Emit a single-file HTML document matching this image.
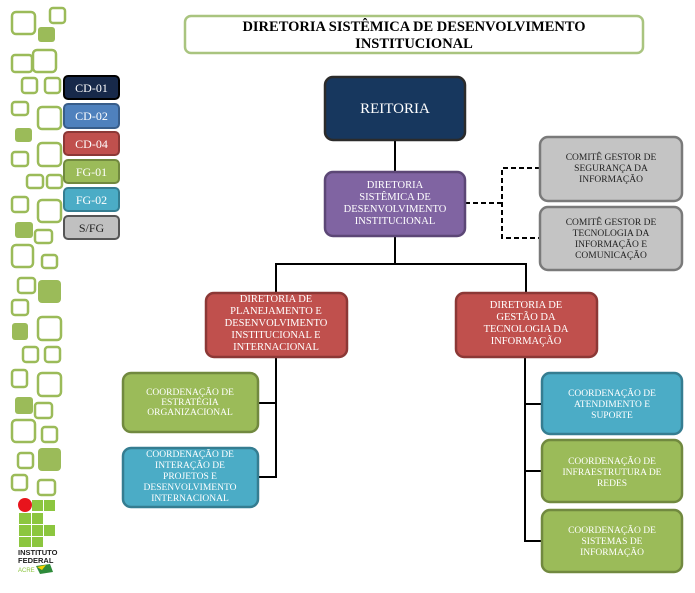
<!DOCTYPE html>
<html><head><meta charset="utf-8"><style>
html,body{margin:0;padding:0;background:#fff;width:695px;height:593px;overflow:hidden}
svg{display:block}
text{font-family:"Liberation Serif",serif}
</style></head><body>
<svg width="695" height="593" viewBox="0 0 695 593" xmlns="http://www.w3.org/2000/svg">
<g fill="none" stroke="#9bbb59" stroke-width="2.5">
<rect x="12" y="12" width="23" height="22" rx="4"/>
<rect x="50" y="8" width="15" height="15" rx="3"/>
<rect x="12" y="55" width="20" height="17" rx="3"/>
<rect x="33" y="50" width="23" height="22" rx="4"/>
<rect x="22" y="78" width="15" height="15" rx="3"/>
<rect x="45" y="78" width="15" height="15" rx="3"/>
<rect x="12" y="102" width="16" height="13" rx="3"/>
<rect x="38" y="107" width="23" height="22" rx="4"/>
<rect x="12" y="152" width="16" height="14" rx="3"/>
<rect x="38" y="143" width="23" height="23" rx="4"/>
<rect x="27" y="175" width="16" height="13" rx="3"/>
<rect x="47" y="175" width="15" height="13" rx="3"/>
<rect x="12" y="197" width="16" height="15" rx="3"/>
<rect x="38" y="200" width="23" height="22" rx="4"/>
<rect x="35" y="230" width="17" height="13" rx="3"/>
<rect x="12" y="245" width="21" height="22" rx="4"/>
<rect x="42" y="255" width="15" height="13" rx="3"/>
<rect x="18" y="278" width="17" height="15" rx="3"/>
<rect x="12" y="300" width="16" height="15" rx="3"/>
<rect x="38" y="317" width="23" height="23" rx="4"/>
<rect x="23" y="347" width="15" height="15" rx="3"/>
<rect x="45" y="347" width="15" height="15" rx="3"/>
<rect x="12" y="370" width="15" height="17" rx="3"/>
<rect x="38" y="373" width="23" height="23" rx="4"/>
<rect x="35" y="403" width="17" height="15" rx="3"/>
<rect x="12" y="420" width="23" height="22" rx="4"/>
<rect x="42" y="427" width="15" height="15" rx="3"/>
<rect x="18" y="453" width="15" height="15" rx="3"/>
<rect x="12" y="475" width="15" height="15" rx="3"/>
<rect x="38" y="480" width="17" height="15" rx="3"/>
</g>
<g fill="#9bbb59">
<rect x="38" y="27" width="17" height="15" rx="3"/>
<rect x="15" y="128" width="17" height="14" rx="3"/>
<rect x="15" y="222" width="18" height="16" rx="3"/>
<rect x="38" y="280" width="23" height="23" rx="4"/>
<rect x="12" y="323" width="16" height="17" rx="3"/>
<rect x="15" y="397" width="18" height="17" rx="3"/>
<rect x="38" y="448" width="23" height="23" rx="4"/>
</g>
<!-- logo -->
<g fill="#8cc63f">
<rect x="32" y="500" width="11" height="11"/><rect x="44" y="500" width="11" height="11"/>
<rect x="19" y="513" width="12" height="11"/><rect x="32" y="513" width="11" height="11"/>
<rect x="19" y="525" width="12" height="11"/><rect x="32" y="525" width="11" height="11"/><rect x="44" y="525" width="11" height="11"/>
<rect x="19" y="537" width="12" height="10"/><rect x="32" y="537" width="11" height="10"/>
</g>
<circle cx="25" cy="505" r="7" fill="#e8141c"/>
<text x="18" y="555" font-family="Liberation Sans,sans-serif" font-size="7.5" font-weight="bold" fill="#222" style="font-family:'Liberation Sans',sans-serif">INSTITUTO</text>
<text x="18" y="563" font-size="7.5" font-weight="bold" fill="#222" style="font-family:'Liberation Sans',sans-serif">FEDERAL</text>
<text x="18" y="572" font-size="6" fill="#8cc63f" style="font-family:'Liberation Sans',sans-serif">ACRE</text>
<polygon points="36,566 50,564 53,572 40,574" fill="#2e8b3a"/><polygon points="37,567 46,565 42,570" fill="#f5d000"/>
<!-- legend -->
<g stroke-width="2" font-size="12" text-anchor="middle">
<rect x="64" y="76" width="55" height="23" rx="4" fill="#17294a" stroke="#000"/><text x="91.5" y="92" fill="#fff">CD-01</text>
<rect x="64" y="104" width="55" height="24" rx="4" fill="#4f81bd" stroke="#385d8a"/><text x="91.5" y="120" fill="#fff">CD-02</text>
<rect x="64" y="132" width="55" height="23" rx="4" fill="#c0504d" stroke="#8c3836"/><text x="91.5" y="148" fill="#fff">CD-04</text>
<rect x="64" y="160" width="55" height="23" rx="4" fill="#9bbb59" stroke="#71893f"/><text x="91.5" y="176" fill="#fff">FG-01</text>
<rect x="64" y="188" width="55" height="23" rx="4" fill="#4bacc6" stroke="#357d91"/><text x="91.5" y="204" fill="#fff">FG-02</text>
<rect x="64" y="216" width="55" height="23" rx="4" fill="#c0c0c0" stroke="#555"/><text x="91.5" y="232" fill="#222">S/FG</text>
</g>
<!-- title -->
<rect x="185" y="16" width="458" height="37" rx="6" fill="#fff" stroke="#a9c47f" stroke-width="2.5"/>
<g font-size="14.5" font-weight="bold" text-anchor="middle" fill="#000">
<text x="414" y="31">DIRETORIA SISTÊMICA DE DESENVOLVIMENTO</text>
<text x="414" y="48">INSTITUCIONAL</text>
</g>
<!-- connectors -->
<g stroke="#000" stroke-width="2" fill="none">
<line x1="395" y1="140" x2="395" y2="172"/>
<line x1="395" y1="236" x2="395" y2="264"/>
<polyline points="276,293 276,264 526,264 526,293"/>
<polyline points="276,357 276,477 258,477"/>
<line x1="258" y1="403" x2="276" y2="403"/>
<polyline points="525,357 525,541 542,541"/>
<line x1="525" y1="404" x2="542" y2="404"/>
<line x1="525" y1="471" x2="542" y2="471"/>
<g stroke-dasharray="5,3">
<line x1="465" y1="203" x2="502" y2="203"/>
<polyline points="540,168 502,168 502,238 540,238"/>
</g>
</g>
<!-- nodes -->
<g stroke-width="2.5">
<rect x="325" y="77" width="140" height="63" rx="8" fill="#17375e" stroke="#2b2b2b"/>
<rect x="325" y="172" width="140" height="64" rx="8" fill="#8064a2" stroke="#5c4776"/>
<rect x="540" y="137" width="142" height="64" rx="8" fill="#c4c4c4" stroke="#7a7a7a"/>
<rect x="540" y="207" width="142" height="63" rx="8" fill="#c4c4c4" stroke="#7a7a7a"/>
<rect x="206" y="293" width="141" height="64" rx="8" fill="#c0504d" stroke="#8c3836"/>
<rect x="456" y="293" width="141" height="64" rx="8" fill="#c0504d" stroke="#8c3836"/>
<rect x="123" y="373" width="135" height="59" rx="8" fill="#9bbb59" stroke="#71893f"/>
<rect x="123" y="448" width="135" height="59" rx="8" fill="#4bacc6" stroke="#357d91"/>
<rect x="542" y="373" width="140" height="61" rx="8" fill="#4bacc6" stroke="#357d91"/>
<rect x="542" y="440" width="140" height="62" rx="8" fill="#9bbb59" stroke="#71893f"/>
<rect x="542" y="510" width="140" height="62" rx="8" fill="#9bbb59" stroke="#71893f"/>
</g>
<g font-size="10.5" text-anchor="middle" fill="#fff">
<text x="395" y="113" font-size="15">REITORIA</text>
<text x="395" y="188">DIRETORIA</text><text x="395" y="200">SISTÊMICA DE</text><text x="395" y="212">DESENVOLVIMENTO</text><text x="395" y="224">INSTITUCIONAL</text>
<text x="276" y="302">DIRETORIA DE</text><text x="276" y="314">PLANEJAMENTO  E</text><text x="276" y="326">DESENVOLVIMENTO</text><text x="276" y="338">INSTITUCIONAL E</text><text x="276" y="350">INTERNACIONAL</text>
<text x="526" y="308">DIRETORIA DE</text><text x="526" y="320">GESTÃO DA</text><text x="526" y="332">TECNOLOGIA DA</text><text x="526" y="344">INFORMAÇÃO</text>
</g>
<g font-size="9.5" text-anchor="middle" fill="#fff">
<text x="190" y="395">COORDENAÇÃO DE</text><text x="190" y="405">ESTRATÉGIA</text><text x="190" y="415">ORGANIZACIONAL</text>
<text x="190" y="457">COORDENAÇÃO DE</text><text x="190" y="468">INTERAÇÃO DE</text><text x="190" y="479">PROJETOS E</text><text x="190" y="490">DESENVOLVIMENTO</text><text x="190" y="501">INTERNACIONAL</text>
<text x="612" y="396">COORDENAÇÃO DE</text><text x="612" y="407">ATENDIMENTO E</text><text x="612" y="418">SUPORTE</text>
<text x="612" y="464">COORDENAÇÃO DE</text><text x="612" y="475">INFRAESTRUTURA DE</text><text x="612" y="486">REDES</text>
<text x="612" y="533">COORDENAÇÃO DE</text><text x="612" y="544">SISTEMAS DE</text><text x="612" y="555">INFORMAÇÃO</text>
</g>
<g font-size="9.5" text-anchor="middle" fill="#222">
<text x="611" y="160">COMITÊ GESTOR DE</text><text x="611" y="171">SEGURANÇA DA</text><text x="611" y="182">INFORMAÇÃO</text>
<text x="611" y="225">COMITÊ GESTOR DE</text><text x="611" y="236">TECNOLOGIA DA</text><text x="611" y="247">INFORMAÇÃO E</text><text x="611" y="258">COMUNICAÇÃO</text>
</g>
</svg>
</body></html>
